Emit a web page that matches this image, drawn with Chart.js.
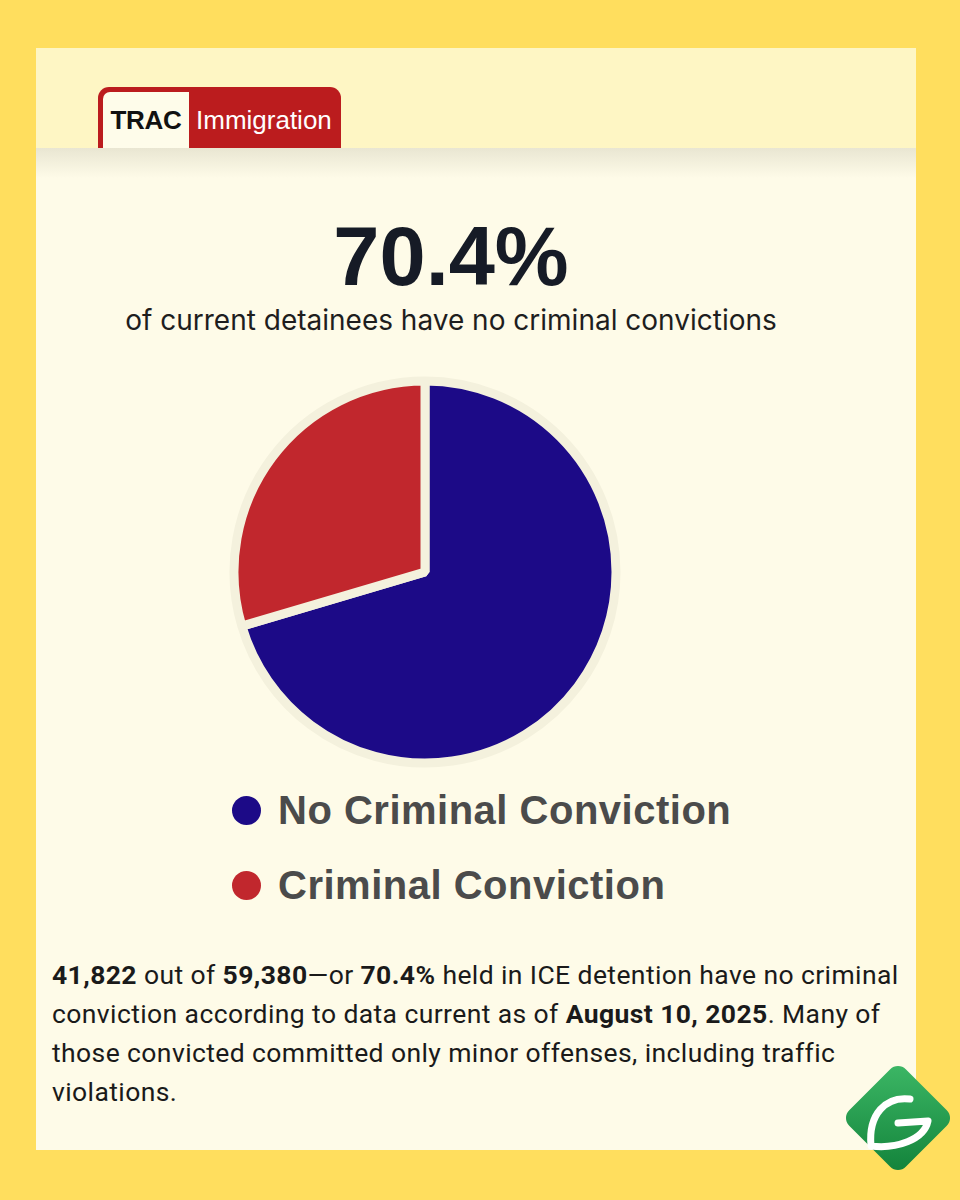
<!DOCTYPE html>
<html>
<head>
<meta charset="utf-8">
<script src="https://cdn.jsdelivr.net/npm/chart.js@4.4.1/dist/chart.umd.min.js"></script>
<style>
  html, body { margin: 0; padding: 0; }
  body { width: 960px; height: 1200px; background: #FFDE5E; position: relative; overflow: hidden; font-family: "Liberation Sans", Arial, sans-serif; }
  #panel { position: absolute; left: 36px; top: 48px; width: 880px; height: 1102px; background: #FEFBE8; overflow: hidden; }
  #header { position: absolute; left: 0; top: 0; width: 880px; height: 100px; background: #FEF6C4; }
  #shadow { position: absolute; left: 0; top: 100px; width: 880px; height: 30px; background: linear-gradient(#E9E6D2, #FEFBE8); }
  #tab { position: absolute; left: 62px; top: 39px; width: 243px; height: 61px; background: #BB1C1E; border-radius: 11px 11px 0 0; }
  #trac { position: absolute; left: 5px; top: 5px; width: 86px; height: 56px; background: #FEFCEA; border-radius: 7px 0 0 0; font-weight: 700; font-size: 26px; color: #111; line-height: 56px; text-align: center; letter-spacing: -0.3px; }
  #imm { position: absolute; left: 98px; top: 5px; height: 56px; line-height: 56px; color: #fff; font-size: 26px; font-family: "Liberation Sans", Arial, sans-serif; }
  #big { position: absolute; left: 0; top: 216px; width: 902px; text-align: center; font-weight: 700; font-size: 83px; line-height: 82px; color: #161b26; }
  #sub { position: absolute; left: 0; top: 300px; width: 902px; text-align: center; font-family: Inter, "Liberation Sans", sans-serif; font-size: 28px; line-height: 40px; color: #1e1e1e; }
  #chartBox { position: absolute; left: 225px; top: 372px; width: 400px; height: 400px; }
  #legend { position: absolute; left: 232px; top: 782px; }
  .li { position: relative; height: 75px; }
  .dot { position: absolute; left: 0; top: 13.5px; width: 29px; height: 29px; border-radius: 50%; }
  .lt { position: absolute; left: 46px; top: 0; line-height: 56px; font-weight: 700; font-size: 40px; color: #4B4B4B; white-space: nowrap; letter-spacing: 0.5px; }
  #body { position: absolute; left: 52px; top: 955px; width: 880px; font-family: Roboto, "Liberation Sans", sans-serif; font-size: 26.5px; letter-spacing: 0.4px; line-height: 39px; color: #1a1a1a; white-space: nowrap; }
  #body b { font-weight: 700; }
  #logo { position: absolute; left: 840px; top: 1060px; width: 116px; height: 116px; }
</style>
</head>
<body>
<div id="panel">
  <div id="header"></div>
  <div id="shadow"></div>
  <div id="tab"><div id="trac">TRAC</div><div id="imm">Immigration</div></div>
</div>
<div id="big">70.4%</div>
<div id="sub">of current detainees have no criminal convictions</div>
<div id="chartBox"><canvas id="c" width="400" height="400"></canvas></div>
<div id="legend"></div>
<div id="body"><b>41,822</b> out of <b>59,380</b>—or <b>70.4%</b> held in ICE detention have no criminal<br>conviction according to data current as of <b>August 10, 2025</b>. Many of<br>those convicted committed only minor offenses, including traffic<br>violations.</div>
<svg id="logo" viewBox="0 0 116 116">
  <defs>
    <linearGradient id="g" x1="0" y1="0" x2="1" y2="1">
      <stop offset="0" stop-color="#3DB866"/>
      <stop offset="1" stop-color="#12823A"/>
    </linearGradient>
  </defs>
  <rect x="18" y="18" width="80" height="80" rx="11" fill="url(#g)" transform="rotate(45 58 58)"/>
  <path d="M 70 39 C 46 36, 28 54, 31 86 C 56 89, 84 80, 88 61 L 58 63" fill="none" stroke="#fff" stroke-width="7" stroke-linecap="round" stroke-linejoin="round"/>
</svg>
<script>
const categories = ["No Criminal Conviction", "Criminal Conviction"];
const detainees = [41822, 17558];
const sliceColors = ["#1C0A87", "#C1272D"];

const chart = new Chart(document.getElementById('c'), {
  type: 'pie',
  data: {
    labels: categories,
    datasets: [{
      data: detainees,
      backgroundColor: sliceColors,
      borderColor: "#F4F1DD",
      borderWidth: 9,
      radius: 191,
      clip: false,
      hoverOffset: 0
    }]
  },
  options: {
    responsive: false,
    animation: false,
    layout: { padding: 0 },
    plugins: {
      tooltip: { enabled: false },
      legend: { display: false }
    }
  }
});

// HTML legend built from the chart's own labels and colours
const legendEl = document.getElementById('legend');
chart.data.labels.forEach((lab, i) => {
  const row = document.createElement('div');
  row.className = 'li';
  const dot = document.createElement('div');
  dot.className = 'dot';
  dot.style.background = chart.data.datasets[0].backgroundColor[i];
  const txt = document.createElement('div');
  txt.className = 'lt';
  txt.textContent = lab;
  row.appendChild(dot);
  row.appendChild(txt);
  legendEl.appendChild(row);
});
</script>
</body>
</html>
